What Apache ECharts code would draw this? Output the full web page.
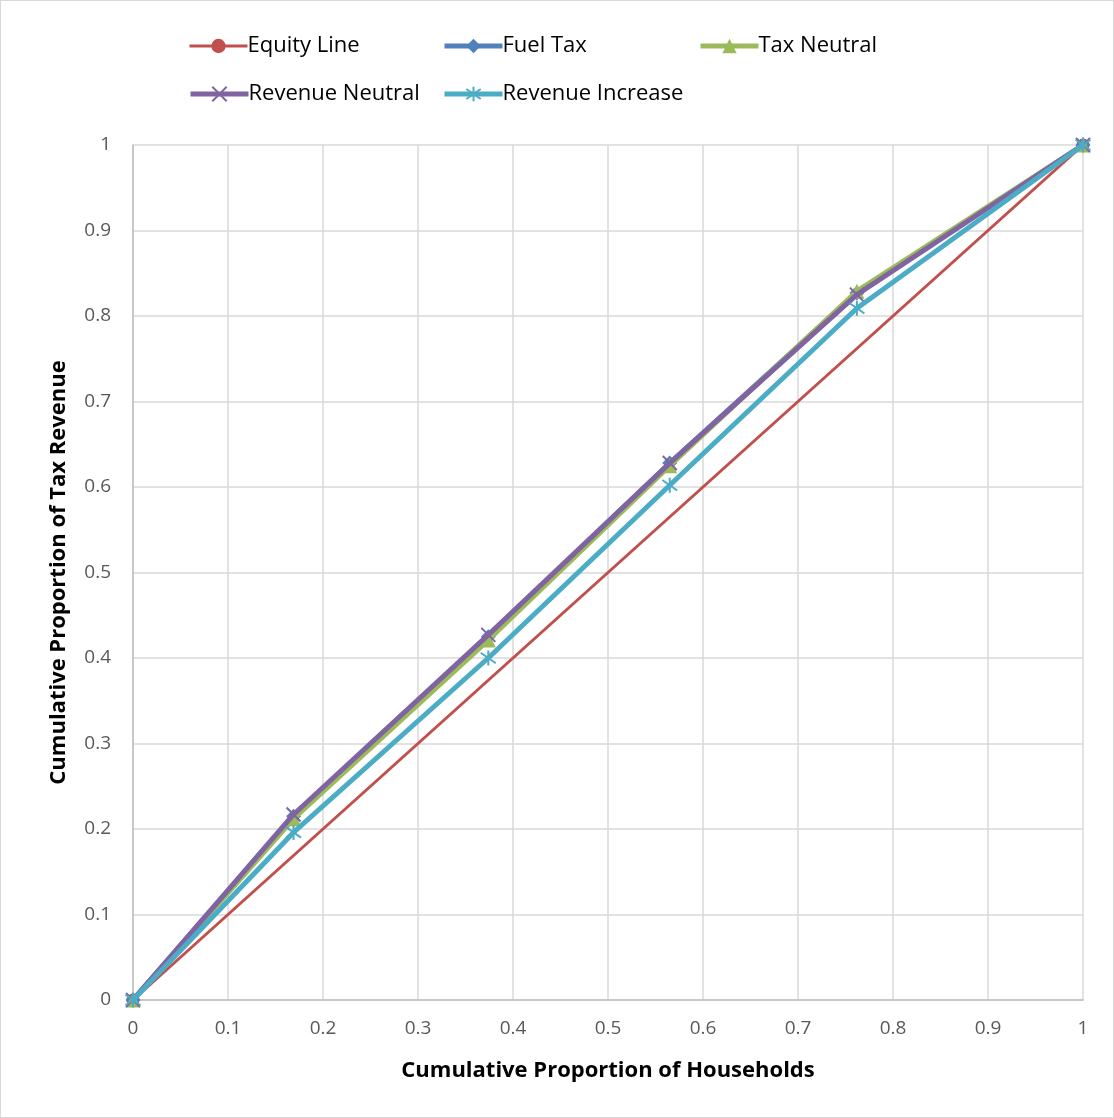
<!DOCTYPE html>
<html><head><meta charset="utf-8">
<script src="https://cdn.jsdelivr.net/npm/echarts@6/dist/echarts.min.js"></script>
<style>html,body{margin:0;padding:0;background:#fff}#c{width:1114px;height:1118px;box-sizing:border-box;border:1px solid #D9D9D9}</style>
</head><body><div id="c"></div>
<script>
const equityX = [0, 1];
const equityY = [0, 1];
const householdsX = [0, 0.169, 0.374, 0.565, 0.762, 1];
const fuelTax = [0, 0.215, 0.425, 0.628, 0.827, 1];
const taxNeutral = [0, 0.212, 0.421, 0.625, 0.829, 1];
const revenueNeutral = [0, 0.217, 0.427, 0.628, 0.825, 1];
const revenueIncrease = [0, 0.196, 0.400, 0.602, 0.809, 1];
const tickLabels = ['0','0.1','0.2','0.3','0.4','0.5','0.6','0.7','0.8','0.9','1'];

const pair = (xs, ys) => xs.map((x, i) => [x, ys[i]]);
const C = {eq:'#C0504D', ft:'#4F81BD', tn:'#9BBB59', rn:'#8064A2', ri:'#4BACC6'};
const xSym = 'path://M0,0L10,10M10,0L0,10';
const starSym = 'path://M5,0L5,10M0,1.5L10,8.5M10,1.5L0,8.5';
const fmt = v => { const i = Math.round(v * 10); return tickLabels[i] !== undefined ? tickLabels[i] : ''; };

const chart = echarts.init(document.getElementById('c'));
const legendBase = (name, left, top, lw) => ({
  data: [name], left: left, top: top, itemWidth: 58, itemHeight: 18,
  lineStyle: {width: lw},
  textStyle: {fontFamily: 'Open Sans', fontSize: 22, color: '#000', padding: [0, 0, 0, -5]}, itemGap: 0, padding: 0
});
chart.setOption({
  animation: false,
  legend: [
    legendBase('Equity Line', 187, 34, 3),
    legendBase('Fuel Tax', 441, 34, 5),
    legendBase('Tax Neutral', 697, 34, 5),
    legendBase('Revenue Neutral', 187, 82, 5),
    legendBase('Revenue Increase', 441, 82, 5)
  ],
  grid: {left: 132, right: 30, top: 144, bottom: 117, containLabel: false},
  xAxis: {
    type: 'value', min: 0, max: 1, interval: 0.1,
    name: 'Cumulative Proportion of Households', nameLocation: 'middle', nameGap: 60,
    nameTextStyle: {fontFamily: 'Open Sans', fontWeight: 'bold', fontSize: 22, color: '#000'},
    axisLine: {show: true, lineStyle: {color: '#BFBFBF', width: 1.5}},
    axisTick: {show: false},
    axisLabel: {formatter: fmt, fontFamily: 'Open Sans', fontSize: 19, color: '#595959', margin: 19},
    splitLine: {show: true, lineStyle: {color: '#D9D9D9', width: 1.5}}
  },
  yAxis: {
    type: 'value', min: 0, max: 1, interval: 0.1,
    name: 'Cumulative Proportion of Tax Revenue', nameLocation: 'middle', nameGap: 63, nameRotate: 90,
    nameTextStyle: {fontFamily: 'Open Sans', fontWeight: 'bold', fontSize: 22, color: '#000'},
    axisLine: {show: true, lineStyle: {color: '#BFBFBF', width: 1.5}},
    axisTick: {show: false},
    axisLabel: {formatter: fmt, fontFamily: 'Open Sans', fontSize: 19, color: '#595959', margin: 22},
    splitLine: {show: true, lineStyle: {color: '#D9D9D9', width: 1.5}}
  },
  series: [
    {name: 'Equity Line', type: 'line', data: pair(equityX, equityY), symbol: 'circle', symbolSize: 13,
     showSymbol: true, itemStyle: {color: C.eq}, lineStyle: {color: C.eq, width: 3}, z: 1},
    {name: 'Fuel Tax', type: 'line', data: pair(householdsX, fuelTax), symbol: 'diamond', symbolSize: 15,
     itemStyle: {color: C.ft}, lineStyle: {color: C.ft, width: 5}, z: 2},
    {name: 'Tax Neutral', type: 'line', data: pair(householdsX, taxNeutral), symbol: 'triangle', symbolSize: 15,
     itemStyle: {color: C.tn}, lineStyle: {color: C.tn, width: 5}, z: 3},
    {name: 'Revenue Neutral', type: 'line', data: pair(householdsX, revenueNeutral), symbol: xSym, symbolSize: 14,
     itemStyle: {color: C.rn, borderColor: C.rn, borderWidth: 2}, lineStyle: {color: C.rn, width: 5}, z: 4},
    {name: 'Revenue Increase', type: 'line', data: pair(householdsX, revenueIncrease), symbol: starSym, symbolSize: 15,
     itemStyle: {color: C.ri, borderColor: C.ri, borderWidth: 2}, lineStyle: {color: C.ri, width: 5}, z: 5}
  ]
});
</script></body></html>
